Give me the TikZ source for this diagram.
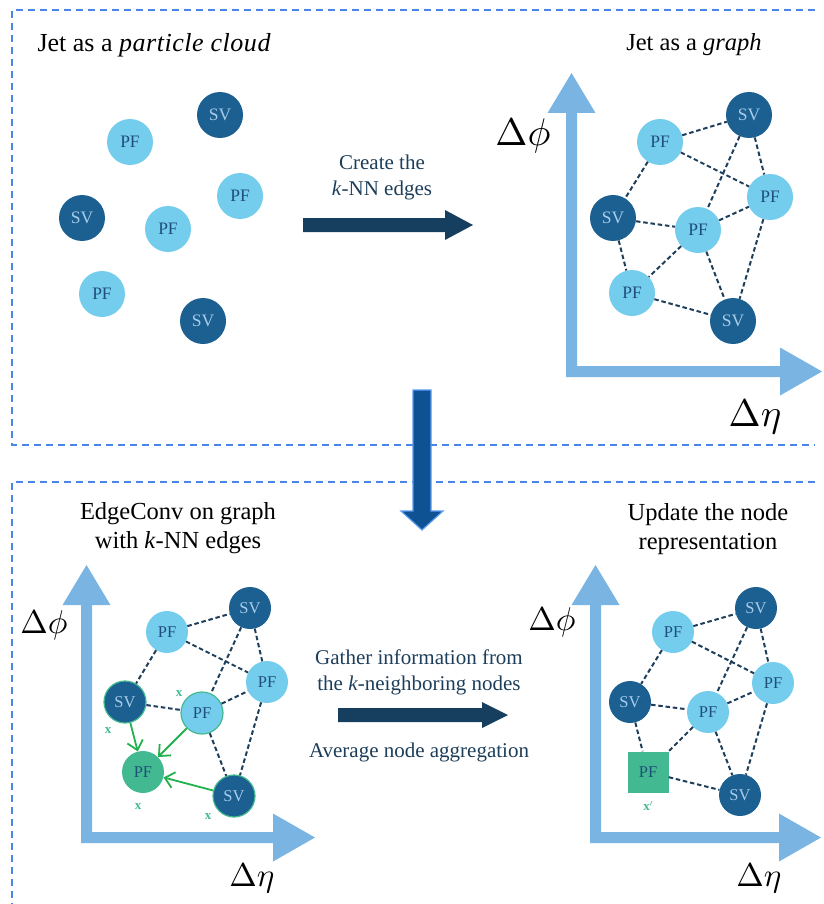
\documentclass[tikz,border=0pt]{standalone}
\usepackage{graphicx}
\usepackage[no-math]{fontspec}
\setmainfont{Liberation Serif}
\usetikzlibrary{arrows.meta,calc}
\definecolor{pfc}{HTML}{74CDEC}
\definecolor{svc}{HTML}{1C5F91}
\definecolor{pftext}{HTML}{1F4E79}
\definecolor{svtext}{HTML}{A8CCEA}
\definecolor{edgec}{HTML}{1E3F5C}
\definecolor{axisc}{HTML}{7AB4E2}
\definecolor{borderc}{HTML}{4A86E8}
\definecolor{darkarr}{HTML}{163F5F}
\definecolor{greenc}{HTML}{43B992}
\definecolor{greenarr}{HTML}{22B14C}
\definecolor{midtext}{HTML}{1D3E5A}
\definecolor{downfill}{HTML}{0F5293}
\definecolor{downedge}{HTML}{5B9BF0}
\newcommand{\axl}[1]{\scalebox{3.85}{$#1$}}
\newcommand{\axs}[1]{\scalebox{3.3}{$#1$}}
\tikzset{
  pf/.style={circle,fill=pfc,minimum size=46pt,inner sep=0pt,text=pftext,font=\fontsize{17.5}{17.5}\selectfont},
  sv/.style={circle,fill=svc,minimum size=46pt,inner sep=0pt,text=svtext,font=\fontsize{17.5}{17.5}\selectfont},
  smallnode/.style={minimum size=42pt,font=\fontsize{16.5}{16.5}\selectfont},
  greenring/.style={draw=greenc,line width=1.2pt},
  gpf/.style={circle,fill=greenc,minimum size=42pt,inner sep=0pt,text=pftext,font=\fontsize{16.5}{16.5}\selectfont},
  gsq/.style={rectangle,fill=greenc,minimum size=41pt,inner sep=0pt,text=pftext,font=\fontsize{16.5}{16.5}\selectfont},
  edge/.style={draw=edgec,line width=2pt,dash pattern=on 4.5pt off 2.8pt},
  border/.style={draw=borderc,line width=1.3pt,dash pattern=on 7pt off 5pt},
  garrow/.style={draw=greenarr,line width=1.8pt,-{Straight Barb[length=9pt,width=16pt,line width=1.8pt]}},
  xlab/.style={text=greenc,font=\fontsize{13}{13}\selectfont\bfseries},
  title/.style={font=\fontsize{24.5}{29}\selectfont,align=center},
  midlab/.style={font=\fontsize{21}{26}\selectfont,align=center,text=midtext},
  axlab/.style={inner sep=0pt},
  axisfill/.style={fill=axisc}
}
\newcommand{\axesarrow}[4]{%
  \pgfmathsetmacro{\cxa}{#1}\pgfmathsetmacro{\cya}{#2}%
  \pgfmathsetmacro{\tya}{#3}\pgfmathsetmacro{\txa}{#4}%
  \pgfmathsetmacro{\vxa}{\cxa+5.5}\pgfmathsetmacro{\hya}{\cya-5.5}%
  \fill[axisfill] (\cxa,\cya) -- (\cxa,\tya+40) -- (\vxa-24,\tya+40) -- (\vxa,\tya)
    -- (\vxa+24,\tya+40) -- (\cxa+11,\tya+40) -- (\cxa+11,\cya-11)
    -- (\txa-42,\cya-11) -- (\txa-42,\hya-24) -- (\txa,\hya) -- (\txa-42,\hya+24)
    -- (\txa-42,\cya) -- cycle;}
\begin{document}
\begin{tikzpicture}[x=1pt,y=-1pt]
\useasboundingbox (0,0) rectangle (823,904);
% borders
\draw[border] (815,10) -- (12,10) -- (12,445) -- (815,445);
\draw[border] (815,482) -- (12,482) -- (12,904);
% titles
\node[title,anchor=west,font=\fontsize{26}{30}\selectfont] (t1) at (34,45) {Jet as a \textit{\addfontfeature{LetterSpace=2}particle cloud}};
\node[title] (t2) at (694,45) {Jet as a \textit{graph}};
\node[title] (t3) at (178,528) {EdgeConv on graph\\with \textit{k}-NN edges};
\node[title] (t4) at (708,529) {Update the node\\representation};
% cloud
\node[pf] (a1) at (130,142) {PF};
\node[sv] (a2) at (220,115) {SV};
\node[pf] (a3) at (240,196) {PF};
\node[sv] (a4) at (82,218) {SV};
\node[pf] (a5) at (168,229) {PF};
\node[pf] (a6) at (102,294) {PF};
\node[sv] (a7) at (203,321) {SV};
% top arrow
\node[midlab] (m1) at (382,177) {Create the\\\textit{k}-NN edges};
\fill[darkarr] (303,218) -- (445,218) -- (445,210) -- (473,225) -- (445,240) -- (445,232) -- (303,232) -- cycle;
% top-right axes
\axesarrow{566}{377}{73}{822}
\node[axlab] (l1) at (523,136) {\axl{\Delta\phi}};
\node[axlab] (l2) at (755,417) {\axl{\Delta\eta}};
% top-right graph
\node[pf] (b1) at (660,142) {PF};
\node[sv] (b2) at (749,115) {SV};
\node[pf] (b3) at (770,197) {PF};
\node[sv] (b4) at (613,218) {SV};
\node[pf] (b5) at (698,230) {PF};
\node[pf] (b6) at (632,293) {PF};
\node[sv] (b7) at (733,321) {SV};
\foreach \u/\v in {b1/b2,b1/b4,b1/b3,b2/b3,b2/b5,b4/b5,b4/b6,b5/b3,b5/b6,b5/b7,b3/b7,b6/b7}
  \draw[edge] (\u) -- (\v);
% down arrow
\draw[fill=downfill,draw=downedge,line width=1.2pt] (413,390) -- (431,390) -- (431,511) -- (443,511) -- (422,530) -- (401,511) -- (413,511) -- cycle;
% bottom-left axes
\axesarrow{81}{843}{565}{315}
\node[axlab] (l3) at (44,625) {\axs{\Delta\phi}};
\node[axlab] (l4) at (252,878) {\axs{\Delta\eta}};
% bottom-left graph
\node[pf,smallnode] (c1) at (167,632) {PF};
\node[sv,smallnode] (c2) at (250,608) {SV};
\node[pf,smallnode] (c3) at (267,682) {PF};
\node[sv,smallnode,greenring] (c4) at (125,702) {SV};
\node[pf,smallnode,greenring] (c5) at (202,713) {PF};
\node[gpf] (c6) at (143,772) {PF};
\node[sv,smallnode,greenring] (c7) at (234,796) {SV};
\foreach \u/\v in {c1/c2,c1/c4,c1/c3,c2/c3,c2/c5,c4/c5,c5/c3,c5/c7,c3/c7}
  \draw[edge] (\u) -- (\v);
\draw[garrow] (c4) -- (c6);
\draw[garrow] (c5) -- (c6);
\draw[garrow] (c7) -- (c6);
\node[xlab] (x1) at (108,731) {x};
\node[xlab] (x2) at (179,694) {x};
\node[xlab] (x3) at (138,807) {x};
\node[xlab] (x4) at (208,817) {x};
% middle bottom arrow
\node[midlab] (m2) at (419,672) {Gather information from\\the \textit{k}-neighboring nodes};
\fill[darkarr] (338,708) -- (482,708) -- (482,702) -- (508,715) -- (482,728) -- (482,722) -- (338,722) -- cycle;
\node[midlab] (m3) at (419,752) {Average node aggregation};
% bottom-right axes
\axesarrow{590}{843}{565}{821}
\node[axlab] (l5) at (552,622) {\axs{\Delta\phi}};
\node[axlab] (l6) at (759,878) {\axs{\Delta\eta}};
% bottom-right graph
\node[pf,smallnode] (d1) at (673,632) {PF};
\node[sv,smallnode] (d2) at (756,608) {SV};
\node[pf,smallnode] (d3) at (773,683) {PF};
\node[sv,smallnode] (d4) at (630,702) {SV};
\node[pf,smallnode] (d5) at (708,712) {PF};
\node[gsq] (d6) at (648,772) {PF};
\node[sv,smallnode] (d7) at (740,795) {SV};
\foreach \u/\v in {d1/d2,d1/d4,d1/d3,d2/d3,d2/d5,d4/d5,d4/d6,d5/d3,d5/d6,d5/d7,d3/d7,d6/d7}
  \draw[edge] (\u) -- (\v);
\node[xlab] (x5) at (648,806) {x$'$};
\end{tikzpicture}
\end{document}
